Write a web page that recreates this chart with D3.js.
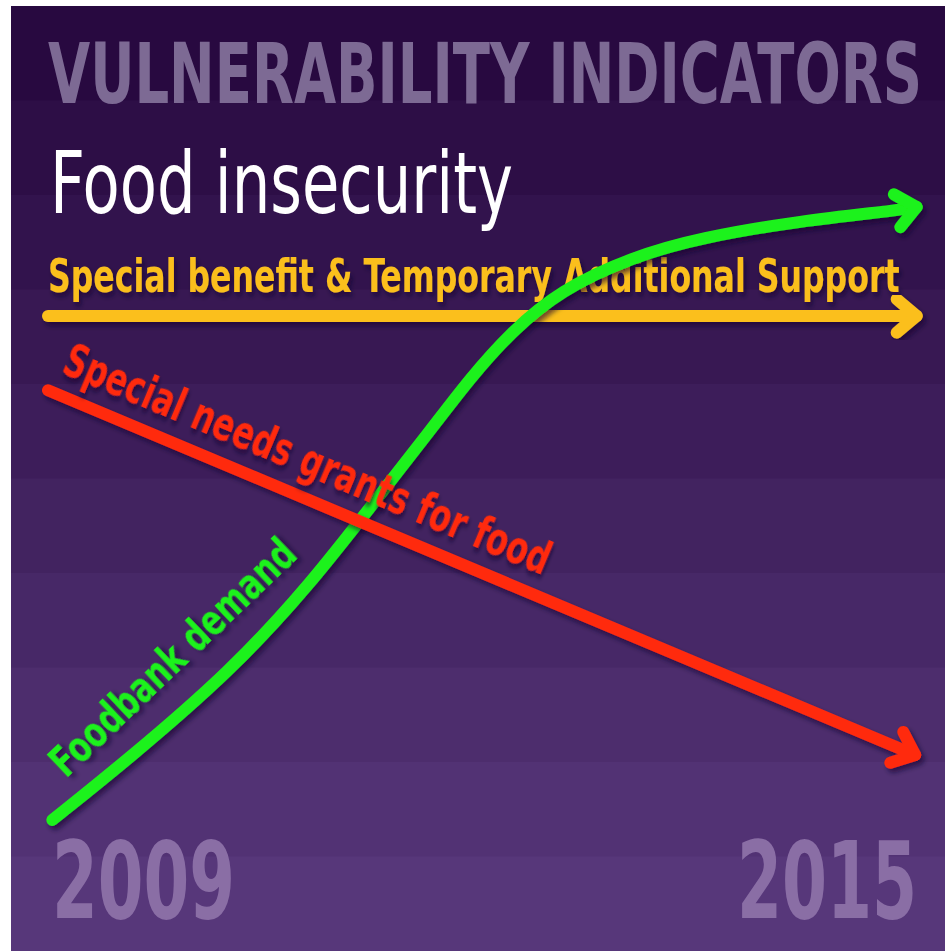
<!DOCTYPE html>
<html>
<head>
<meta charset="utf-8">
<script src="https://cdn.jsdelivr.net/npm/d3@7"></script>
<style>
  html, body { margin: 0; padding: 0; background: #ffffff; }
  svg { display: block; }
  .cond { font-family: "Liberation Sans Narrow", "DejaVu Sans Condensed", "DejaVu Sans", sans-serif; }
</style>
</head>
<body>
<div id="chart"></div>
<script>
// ---- data (index 0-100, years on x) ----
var yearTicks = [2009, 2015];

var foodbankYears = [2009.03, 2009.56, 2010.25, 2010.80, 2011.28, 2011.63, 2011.90, 2012.18, 2012.52, 2013.02, 2013.48, 2014.17, 2014.86, 2014.97];
var foodbankIndex = [1.6, 11.4, 25.1, 38.9, 53.2, 63.5, 71.7, 79.0, 85.7, 91.0, 94.0, 96.7, 98.4, 98.9];

var benefitYears = [2009.0, 2014.97];
var benefitIndex = [81.6, 81.6];

var grantsYears = [2009.0, 2014.96];
var grantsIndex = [69.8, 11.9];

var titleText = "VULNERABILITY INDICATORS";
var subtitleText = "Food insecurity";
var benefitLabel = "Special benefit & Temporary Additional Support";
var grantsLabel = "Special needs grants for food";
var foodbankLabel = "Foodbank demand";

// ---- chart ----
var W = 945, H = 951;
var frame = {left: 11, top: 6};

var svg = d3.select("#chart").append("svg")
    .attr("width", W)
    .attr("height", H);

var defs = svg.append("defs");
var shadow = defs.append("filter")
    .attr("id", "shadow")
    .attr("x", "-10%").attr("y", "-10%")
    .attr("width", "130%").attr("height", "130%");
shadow.append("feDropShadow")
    .attr("dx", 3).attr("dy", 4)
    .attr("stdDeviation", 2.5)
    .attr("flood-color", "#14042a")
    .attr("flood-opacity", 0.6);

// banded purple background
var nBands = 10;
var bandH = (H - frame.top) / nBands;
var bandColor = d3.scaleLinear()
    .domain([0, nBands - 1])
    .range(["#280940", "#57377a"])
    .interpolate(d3.interpolateRgb);

svg.append("g").selectAll("rect")
    .data(d3.range(nBands))
    .enter().append("rect")
    .attr("x", frame.left)
    .attr("y", function(i) { return frame.top + i * bandH; })
    .attr("width", W - frame.left)
    .attr("height", bandH + 1)
    .attr("fill", function(i) { return bandColor(i); });

var x = d3.scaleLinear().domain([2009, 2015]).range([48, 921]);
var y = d3.scaleLinear().domain([0, 100]).range([830, 200]);

function zip(xs, ys) {
    return xs.map(function(v, i) { return [v, ys[i]]; });
}

var line = d3.line()
    .x(function(d) { return x(d[0]); })
    .y(function(d) { return y(d[1]); });

function arrowHead(pts, len, ang) {
    var p0 = [x(pts[pts.length - 2][0]), y(pts[pts.length - 2][1])];
    var p1 = [x(pts[pts.length - 1][0]), y(pts[pts.length - 1][1])];
    var a = Math.atan2(p1[1] - p0[1], p1[0] - p0[0]) + Math.PI;
    var a1 = a - ang, a2 = a + ang;
    return "M" + (p1[0] + len * Math.cos(a1)) + "," + (p1[1] + len * Math.sin(a1)) +
        "L" + p1[0] + "," + p1[1] +
        "L" + (p1[0] + len * Math.cos(a2)) + "," + (p1[1] + len * Math.sin(a2));
}

function drawArrow(pts, color, curve) {
    var g = svg.append("g").attr("filter", "url(#shadow)");
    g.append("path")
        .attr("d", line.curve(curve)(pts))
        .attr("fill", "none")
        .attr("stroke", color)
        .attr("stroke-width", 12)
        .attr("stroke-linecap", "round")
        .attr("stroke-linejoin", "round");
    g.append("path")
        .attr("d", arrowHead(pts, 26, 40 * Math.PI / 180))
        .attr("fill", "none")
        .attr("stroke", color)
        .attr("stroke-width", 12)
        .attr("stroke-linecap", "round")
        .attr("stroke-linejoin", "round");
}

// squeeze a text horizontally so it spans the given width
function label(txt, opts) {
    var t = svg.append("text")
        .attr("class", "cond")
        .attr("x", 0).attr("y", 0)
        .attr("font-size", opts.size)
        .attr("font-weight", opts.weight || "normal")
        .attr("fill", opts.color)
        .text(txt);
    if (opts.shadow) t.attr("filter", "url(#shadow)");
    var w = t.node().getComputedTextLength();
    var k = opts.width / w;
    t.attr("transform", "translate(" + opts.x + "," + opts.y + ")" +
        (opts.rotate ? " rotate(" + opts.rotate + ")" : "") +
        " scale(" + k + ",1)");
    return t;
}

// titles
label(titleText, {x: 48, y: 103, size: 84, weight: "bold", color: "#7d6a94", width: 874});
label(subtitleText, {x: 50, y: 213, size: 86, color: "#ffffff", width: 463});

// special benefit
var benefitPts = zip(benefitYears, benefitIndex);
label(benefitLabel, {x: x(benefitYears[0]), y: y(benefitIndex[0]) - 24, size: 47, weight: "bold",
    color: "#fbbf1f", width: 852, shadow: true});
drawArrow(benefitPts, "#fbbf1f", d3.curveLinear);

// foodbank demand
var foodbankPts = zip(foodbankYears, foodbankIndex);
drawArrow(foodbankPts, "#1ef21a", d3.curveBasis);
label(foodbankLabel, {x: 66, y: 779, rotate: -43.6, size: 43, weight: "bold",
    color: "#1ef21a", width: 322, shadow: true});

// special needs grants
var grantsPts = zip(grantsYears, grantsIndex);
drawArrow(grantsPts, "#ff2a08", d3.curveLinear);
var gp0 = [x(grantsYears[0]), y(grantsIndex[0])];
var gp1 = [x(grantsYears[1]), y(grantsIndex[1])];
var gAng = Math.atan2(gp1[1] - gp0[1], gp1[0] - gp0[0]) * 180 / Math.PI;
label(grantsLabel, {x: gp0[0] + 12, y: gp0[1] - 18, rotate: gAng, size: 47, weight: "bold",
    color: "#ff2a08", width: 524, shadow: true});

// year labels
yearTicks.forEach(function(d, i) {
    label(String(d), {x: i === 0 ? x(d) + 4 : x(d) - 184, y: 918, size: 107, weight: "bold",
        color: "#8a6ea5", width: i === 0 ? 183 : 180});
});
</script>
</body>
</html>
